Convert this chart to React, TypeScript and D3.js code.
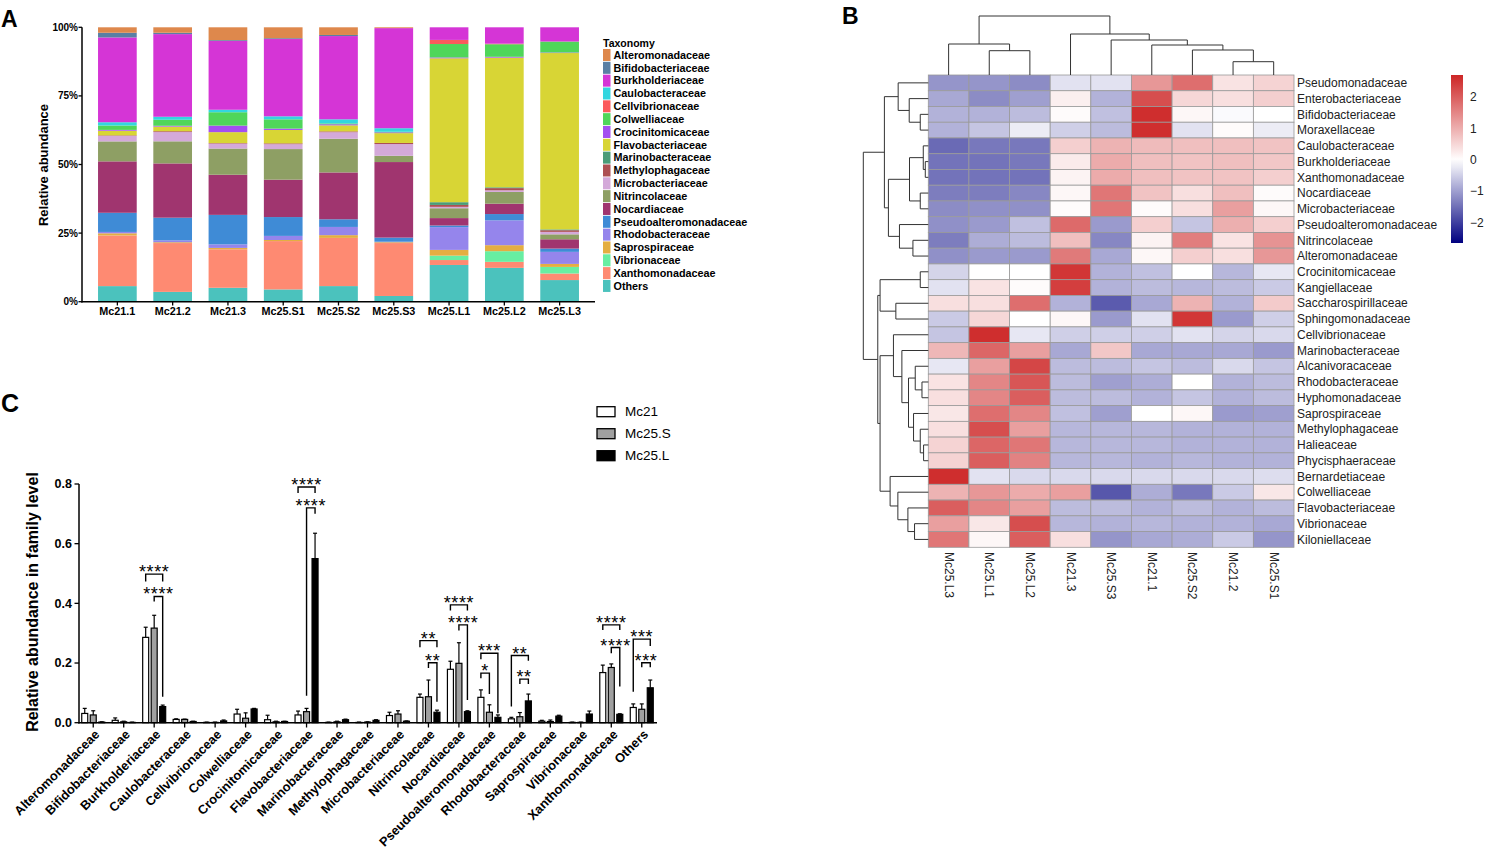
import React from 'react';
import * as d3 from 'd3';

const FONT = '"Liberation Sans", Arial, Helvetica, sans-serif';

// ---------- Panel A: stacked relative abundance ----------
const taxa = [
  'Alteromonadaceae', 'Bifidobacteriaceae', 'Burkholderiaceae', 'Caulobacteraceae', 'Cellvibrionaceae',
  'Colwelliaceae', 'Crocinitomicaceae', 'Flavobacteriaceae', 'Marinobacteraceae', 'Methylophagaceae',
  'Microbacteriaceae', 'Nitrincolaceae', 'Nocardiaceae', 'Pseudoalteromonadaceae', 'Rhodobacteraceae',
  'Saprospiraceae', 'Vibrionaceae', 'Xanthomonadaceae', 'Others',
];
const taxaColors = [
  '#de884c', '#5a7fa4', '#d535d6', '#33d6df', '#fb5a5c',
  '#4fd65a', '#a44ff0', '#d8d535', '#4a9c78', '#ad4f52',
  '#d4a9d9', '#8e9f64', '#a0356f', '#3f8bd6', '#9585ec',
  '#e4ae42', '#68eea2', '#fe8a72', '#4bc2bd',
];
const samples = ['Mc21.1', 'Mc21.2', 'Mc21.3', 'Mc25.S1', 'Mc25.S2', 'Mc25.S3', 'Mc25.L1', 'Mc25.L2', 'Mc25.L3'];
// percent per taxon, in the legend order above
const mc21_1 = [2, 1.7, 31, 1.2, 0, 1.6, 0.3, 1.7, 0, 0.2, 2, 7.3, 18.8, 7, 0.5, 0.8, 0, 18.5, 5.7];
const mc21_2 = [2, 0.5, 30.3, 1.1, 0, 2.2, 0.3, 1.7, 0, 0.3, 3.4, 8.1, 19.9, 8.3, 0.7, 0.3, 0, 17.9, 3.6];
const mc21_3 = [4.7, 0.3, 25.2, 0.9, 0, 4.9, 2.4, 4, 0, 0.2, 1.8, 9.6, 14.7, 10.8, 1.3, 0.5, 0, 14.1, 5.1];
const mc25_s1 = [4, 0.3, 28.3, 1.1, 0, 3.4, 0.5, 4.9, 0, 0.3, 1.8, 11.2, 13.7, 6.9, 1.5, 0.4, 0, 17.7, 4.5];
const mc25_s2 = [2.8, 0.4, 30.4, 1.5, 0, 0.3, 0.4, 2.2, 0, 0.3, 2.4, 12.3, 17.1, 2.8, 3, 1, 0, 17.6, 5.7];
const mc25_s3 = [0.3, 0, 36.7, 1.3, 0, 0.2, 0.3, 3.6, 0, 0.4, 4.3, 2.3, 27.7, 1.5, 0.2, 0.3, 0, 19.4, 2.1];
const mc25_l1 = [0, 0, 4.6, 0, 1.5, 4.9, 0.3, 52.5, 1, 0.7, 0.5, 3.6, 2.7, 0.6, 8.3, 2.1, 1.6, 1.8, 13.4];
const mc25_l2 = [0, 0, 6, 0, 0.2, 4.6, 0.3, 47.5, 0.3, 0.8, 0.6, 4.3, 3.8, 2.3, 9.1, 2.2, 3.9, 2.2, 12.4];
const mc25_l3 = [0, 0, 5.2, 0, 0, 4, 0.2, 64.4, 0.3, 0.6, 0.9, 1.8, 3.4, 1.2, 4.4, 1.1, 2.4, 2.4, 7.9];
const sampleValues = [mc21_1, mc21_2, mc21_3, mc25_s1, mc25_s2, mc25_s3, mc25_l1, mc25_l2, mc25_l3];
const yTicksA = [0, 0.25, 0.5, 0.75, 1];

// ---------- Panel B: heatmap ----------
const heatCols = ['Mc25.L3', 'Mc25.L1', 'Mc25.L2', 'Mc21.3', 'Mc25.S3', 'Mc21.1', 'Mc25.S2', 'Mc21.2', 'Mc25.S1'];
const heatRows = [
  'Pseudomonadaceae', 'Enterobacteriaceae', 'Bifidobacteriaceae', 'Moraxellaceae', 'Caulobacteraceae',
  'Burkholderiaceae', 'Xanthomonadaceae', 'Nocardiaceae', 'Microbacteriaceae', 'Pseudoalteromonadaceae',
  'Nitrincolaceae', 'Alteromonadaceae', 'Crocinitomicaceae', 'Kangiellaceae', 'Saccharospirillaceae',
  'Sphingomonadaceae', 'Cellvibrionaceae', 'Marinobacteraceae', 'Alcanivoracaceae', 'Rhodobacteraceae',
  'Hyphomonadaceae', 'Saprospiraceae', 'Methylophagaceae', 'Halieaceae', 'Phycisphaeraceae',
  'Bernardetiaceae', 'Colwelliaceae', 'Flavobacteriaceae', 'Vibrionaceae', 'Kiloniellaceae',
];
const heatValues = [
  [-1.1, -1.1, -1.2, -0.3, -0.3, 1.3, 1.8, 0.35, 0.55],
  [-0.9, -1.2, -1.0, 0.2, -0.8, 2.2, 0.5, 0.4, 0.6],
  [-0.8, -0.8, -0.7, 0.05, -0.65, 2.6, 0.1, -0.05, 0.0],
  [-0.8, -0.6, -0.2, -0.5, -0.7, 2.6, -0.3, 0.05, -0.2],
  [-1.55, -1.4, -1.4, 0.6, 0.95, 0.85, 0.8, 0.8, 0.75],
  [-1.45, -1.45, -1.4, 0.25, 1.05, 0.8, 0.75, 0.8, 0.7],
  [-1.45, -1.45, -1.45, 0.15, 1.05, 0.8, 0.75, 0.75, 0.6],
  [-1.35, -1.35, -1.25, 0.1, 1.7, 0.75, 0.4, 0.8, 0.05],
  [-1.2, -1.15, -1.15, 0.05, 1.7, 0.05, 0.4, 1.2, 0.1],
  [-1.15, -1.05, -0.65, 1.85, -1.05, 0.6, -0.6, 1.0, 0.6],
  [-1.35, -0.85, -0.7, 0.8, -1.25, 0.15, 1.6, 0.35, 1.35],
  [-1.15, -1.05, -1.05, 1.65, -0.9, 0.1, 0.6, 0.4, 1.3],
  [-0.45, 0.0, 0.0, 2.5, -0.8, -0.65, 0.0, -0.75, -0.25],
  [-0.3, 0.35, 0.05, 2.4, -0.8, -0.7, -0.75, -0.7, -0.55],
  [0.4, 0.4, 1.8, -0.8, -1.7, -0.9, 0.95, -0.8, 0.65],
  [-0.55, 0.5, 0.0, 0.1, -1.05, -0.3, 2.5, -1.05, -0.5],
  [-0.6, 2.6, -0.25, -0.5, -0.5, -0.5, -0.3, -0.45, -0.4],
  [0.9, 1.9, 1.2, -0.9, 0.7, -0.9, -0.9, -0.9, -1.05],
  [-0.25, 1.2, 2.3, -0.7, -0.7, -0.6, -0.7, -0.4, -0.6],
  [0.35, 1.5, 2.1, -0.7, -1.0, -0.85, 0.0, -0.8, -0.7],
  [0.4, 1.5, 2.0, -0.7, -0.7, -0.8, -0.6, -0.8, -0.7],
  [0.3, 1.8, 1.5, -0.65, -1.0, 0.0, 0.1, -1.05, -1.0],
  [0.4, 2.2, 1.2, -0.75, -0.75, -0.75, -0.8, -0.8, -0.8],
  [0.55, 1.9, 1.7, -0.75, -0.75, -0.75, -0.8, -0.8, -0.8],
  [0.55, 2.0, 1.55, -0.75, -0.75, -0.8, -0.75, -0.8, -0.8],
  [2.6, -0.3, -0.4, -0.4, -0.4, -0.4, -0.4, -0.4, -0.35],
  [0.95, 1.3, 1.05, 1.2, -1.75, -0.85, -1.4, -0.55, 0.3],
  [2.0, 1.5, 1.2, -0.7, -0.7, -0.8, -0.7, -0.8, -0.7],
  [1.2, 0.3, 2.2, -0.75, -0.8, -0.75, -0.8, -0.8, -0.9],
  [1.7, 0.1, 2.0, 0.4, -1.1, -0.9, -0.85, -0.55, -1.1],
];
const legendTicksB = [-2, -1, 0, 1, 2];

// dendrograms: [height, left, right], leaves are indices
type Tree = number | [number, Tree, Tree];
const rowTree: Tree = [64.7,
  [43.7,
    [30, 0, [19, 1, [8, 2, 3]]],
    [39.7, [18.7, [5, 4, [3, 5, 6]], [8, 7, 8]], [28.7, 9, [15.3, 10, 11]]]],
  [50.3,
    [48, [8, 12, 13], [32.3, 14, 15]],
    [48,
      [34.7, 16, [26.3, 17, [19.7, [13, 18, [6.3, 19, 20]], [14.7, 21, [8, 22, [4.7, 23, 24]]]]]],
      [38, 25, [30.3, 26, [20.3, 27, [13.7, 28, 29]]]]]]];
const colTree: Tree = [59,
  [31, 0, [24.3, 1, 2]],
  [41, 3, [35, 4, [30, 5, [25, 6, [13.3, 7, 8]]]]]];

// ---------- Panel C: grouped bars ----------
const cFamilies = [
  'Alteromonadaceae', 'Bifidobacteriaceae', 'Burkholderiaceae', 'Caulobacteraceae', 'Cellvibrionaceae',
  'Colwelliaceae', 'Crocinitomicaceae', 'Flavobacteriaceae', 'Marinobacteraceae', 'Methylophagaceae',
  'Microbacteriaceae', 'Nitrincolaceae', 'Nocardiaceae', 'Pseudoalteromonadaceae', 'Rhodobacteraceae',
  'Saprospiraceae', 'Vibrionaceae', 'Xanthomonadaceae', 'Others',
];
const groups = ['Mc21', 'Mc25.S', 'Mc25.L'];
const groupFills = ['#ffffff', '#a0a0a0', '#000000'];
const mc21Mean = [0.031, 0.008, 0.286, 0.011, 0.001, 0.029, 0.010, 0.026, 0.001, 0.001, 0.024, 0.085, 0.179, 0.085, 0.013, 0.005, 0.001, 0.168, 0.051];
const mc21Sd = [0.017, 0.008, 0.034, 0.002, 0.001, 0.016, 0.015, 0.013, 0.001, 0.001, 0.011, 0.011, 0.027, 0.025, 0.005, 0.003, 0.001, 0.025, 0.012];
const mc25SMean = [0.026, 0.003, 0.317, 0.011, 0.001, 0.015, 0.003, 0.037, 0.003, 0.002, 0.029, 0.087, 0.199, 0.035, 0.020, 0.004, 0.001, 0.185, 0.045];
const mc25SSd = [0.014, 0.002, 0.043, 0.001, 0.001, 0.018, 0.002, 0.011, 0.002, 0.001, 0.011, 0.056, 0.069, 0.025, 0.014, 0.005, 0.001, 0.012, 0.018];
const mc25LMean = [0.002, 0.001, 0.054, 0.004, 0.006, 0.046, 0.004, 0.55, 0.010, 0.008, 0.005, 0.035, 0.037, 0.018, 0.073, 0.022, 0.029, 0.028, 0.117];
const mc25LSd = [0.001, 0.001, 0.005, 0.001, 0.003, 0.002, 0.001, 0.085, 0.002, 0.002, 0.001, 0.007, 0.003, 0.008, 0.023, 0.003, 0.010, 0.002, 0.026];
const groupMeans = [mc21Mean, mc25SMean, mc25LMean];
const groupSds = [mc21Sd, mc25SSd, mc25LSd];
const yTicksC = [0, 0.2, 0.4, 0.6, 0.8];
// significance brackets: family, from group, to group, bar level, left leg end, right leg end, label
const brackets: [string, number, number, number, number, number, string][] = [
  ['Burkholderiaceae', 0, 2, 0.498, 0.473, 0.473, '****'],
  ['Burkholderiaceae', 1, 2, 0.423, 0.406, 0.087, '****'],
  ['Flavobacteriaceae', 0, 2, 0.79, 0.77, 0.77, '****'],
  ['Flavobacteriaceae', 1, 2, 0.72, 0.09, 0.70, '****'],
  ['Nitrincolaceae', 0, 2, 0.275, 0.253, 0.253, '**'],
  ['Nitrincolaceae', 1, 2, 0.201, 0.183, 0.07, '**'],
  ['Nocardiaceae', 0, 2, 0.395, 0.376, 0.376, '****'],
  ['Nocardiaceae', 1, 2, 0.328, 0.309, 0.076, '****'],
  ['Pseudoalteromonadaceae', 0, 2, 0.233, 0.213, 0.032, '***'],
  ['Pseudoalteromonadaceae', 0, 1, 0.166, 0.149, 0.096, '*'],
  ['Rhodobacteraceae', 0, 2, 0.225, 0.054, 0.208, '**'],
  ['Rhodobacteraceae', 1, 2, 0.146, 0.13, 0.13, '**'],
  ['Xanthomonadaceae', 0, 2, 0.328, 0.311, 0.311, '****'],
  ['Xanthomonadaceae', 1, 2, 0.252, 0.233, 0.121, '****'],
  ['Others', 0, 2, 0.28, 0.104, 0.257, '***'],
  ['Others', 1, 2, 0.201, 0.186, 0.186, '***'],
];

function walk(t: Tree, leafPos: (i: number) => number, segs: number[][]): { p: number; h: number } {
  if (typeof t === 'number') return { p: leafPos(t), h: 0 };
  const [h, a, b] = t;
  const l = walk(a, leafPos, segs);
  const r = walk(b, leafPos, segs);
  segs.push([l.p, h, r.p, h], [l.p, l.h, l.p, h], [r.p, r.h, r.p, h]);
  return { p: (l.p + r.p) / 2, h };
}

function PanelA() {
  const x = d3.scaleBand().domain(samples).range([82, 595]).paddingInner(0.3).paddingOuter(0.29);
  const y = d3.scaleLinear().domain([0, 1]).range([301.7, 27.3]);
  const table = samples.map((s, i) => {
    const row: Record<string, number | string> = { sample: s };
    taxa.forEach((t, j) => { row[t] = sampleValues[i][j]; });
    return row;
  });
  const stack = d3.stack<Record<string, number | string>>()
    .keys([...taxa].reverse())
    .value((d, k) => d[k] as number)
    .offset(d3.stackOffsetExpand);
  const series = stack(table);
  const color = d3.scaleOrdinal<string, string>().domain(taxa).range(taxaColors);
  return (
    <g>
      <text x={1} y={27} fontSize={23} fontWeight="bold" fontFamily={FONT}>A</text>
      {series.map(s => (
        <g key={s.key} fill={color(s.key)}>
          {s.map((d, i) => (
            <rect key={i} x={x(samples[i])} width={x.bandwidth()} y={y(d[1])} height={Math.max(0, y(d[0]) - y(d[1]))} />
          ))}
        </g>
      ))}
      <line x1={82} x2={82} y1={27.3} y2={302.5} stroke="#000" strokeWidth={1.5} />
      <line x1={81.3} x2={595} y1={301.7} y2={301.7} stroke="#000" strokeWidth={1.5} />
      {yTicksA.map(t => (
        <g key={t}>
          <line x1={78.5} x2={82} y1={y(t)} y2={y(t)} stroke="#000" strokeWidth={1.3} />
          <text x={78} y={y(t)} dy="0.35em" textAnchor="end" fontSize={10} fontWeight="bold" fontFamily={FONT}>{`${t * 100}%`}</text>
        </g>
      ))}
      {samples.map(s => (
        <g key={s}>
          <line x1={x(s)! + x.bandwidth() / 2} x2={x(s)! + x.bandwidth() / 2} y1={301.7} y2={305.5} stroke="#000" strokeWidth={1.3} />
          <text x={x(s)! + x.bandwidth() / 2} y={314.5} textAnchor="middle" fontSize={10.8} fontWeight="bold" fontFamily={FONT}>{s}</text>
        </g>
      ))}
      <text transform="translate(48,165) rotate(-90)" textAnchor="middle" fontSize={13} fontWeight="bold" fontFamily={FONT}>Relative abundance</text>
      <text x={603} y={46.5} fontSize={10.5} fontWeight="bold" fontFamily={FONT}>Taxonomy</text>
      {taxa.map((t, i) => (
        <g key={t} transform={`translate(603,${49 + i * 12.83})`}>
          <rect width={7.5} height={12} fill={color(t)} />
          <text x={10.5} y={6} dy="0.35em" fontSize={10.8} fontWeight="bold" fontFamily={FONT}>{t}</text>
        </g>
      ))}
    </g>
  );
}

function PanelB() {
  const x = d3.scaleBand().domain(heatCols).range([928.3, 1294]);
  const y = d3.scaleBand().domain(heatRows).range([75, 547.3]);
  const zMin = -2.65, zMax = 2.7;
  const color = d3.scaleLinear<string>().domain([zMin, 0, zMax]).range(['#000080', '#ffffff', '#cd2626']).interpolate(d3.interpolateRgb);
  const rowSegs: number[][] = [];
  walk(rowTree, i => y(heatRows[i])! + y.bandwidth() / 2, rowSegs);
  const hx = d3.scaleLinear().domain([0, 64.7]).range([928.3, 863.3]);
  const colSegs: number[][] = [];
  walk(colTree, i => x(heatCols[i])! + x.bandwidth() / 2, colSegs);
  const hy = d3.scaleLinear().domain([0, 59]).range([75, 16]);
  const lg = d3.scaleLinear().domain([zMin, zMax]).range([243, 75]);
  const stops = d3.range(0, 1.0001, 0.05);
  return (
    <g>
      <defs>
        <linearGradient id="zgrad" x1="0" y1="1" x2="0" y2="0">
          {stops.map(s => <stop key={s} offset={s} stopColor={color(zMin + s * (zMax - zMin))} />)}
        </linearGradient>
      </defs>
      <text x={842} y={24} fontSize={23} fontWeight="bold" fontFamily={FONT}>B</text>
      {heatValues.map((row, i) => row.map((v, j) => (
        <rect key={`${i}-${j}`} x={x(heatCols[j])} y={y(heatRows[i])} width={x.bandwidth()} height={y.bandwidth()}
          fill={color(v)} stroke="#9a9a9a" strokeWidth={0.8} />
      )))}
      <g stroke="#333" strokeWidth={1} fill="none">
        {rowSegs.map((s, i) => <line key={i} x1={hx(s[1])} y1={s[0]} x2={hx(s[3])} y2={s[2]} />)}
        {colSegs.map((s, i) => <line key={i} x1={s[0]} y1={hy(s[1])} x2={s[2]} y2={hy(s[3])} />)}
      </g>
      {heatRows.map(r => (
        <text key={r} x={1297} y={y(r)! + y.bandwidth() / 2} dy="0.35em" fontSize={12} fontFamily={FONT} fill="#222">{r}</text>
      ))}
      {heatCols.map(c => (
        <text key={c} transform={`translate(${x(c)! + x.bandwidth() / 2},552) rotate(90)`} dominantBaseline="central"
          fontSize={12} fontFamily={FONT} fill="#222">{c}</text>
      ))}
      <rect x={1451} y={75} width={12} height={168} fill="url(#zgrad)" />
      {legendTicksB.map(t => (
        <text key={t} x={1470} y={lg(t)} dy="0.35em" fontSize={12} fontFamily={FONT} fill="#222">{t < 0 ? `\u2212${-t}` : t}</text>
      ))}
    </g>
  );
}

function PanelC() {
  const x = d3.scaleBand().domain(cFamilies).range([78, 657]);
  const y = d3.scaleLinear().domain([0, 0.8]).range([722.7, 484]);
  const sub = d3.scaleBand().domain(groups).range([-11.5, 11.5]).paddingInner(0.294);
  const cx = (f: string) => x(f)! + x.bandwidth() / 2;
  const barMid = (f: string, g: number) => cx(f) + sub(groups[g])! + sub.bandwidth() / 2;
  return (
    <g fontFamily={FONT}>
      <text x={1} y={412} fontSize={25} fontWeight="bold">C</text>
      {cFamilies.map((f, i) => (
        <g key={f}>
          {groups.map((g, k) => {
            const m = groupMeans[k][i], sd = groupSds[k][i];
            const bx = cx(f) + sub(g)!;
            const mid = bx + sub.bandwidth() / 2;
            return (
              <g key={g}>
                <line x1={mid} x2={mid} y1={y(m)} y2={y(m + sd)} stroke="#000" strokeWidth={1.2} />
                <line x1={mid - 2} x2={mid + 2} y1={y(m + sd)} y2={y(m + sd)} stroke="#000" strokeWidth={1.2} />
                <rect x={bx} width={sub.bandwidth()} y={y(m)} height={y(0) - y(m)} fill={groupFills[k]} stroke="#000" strokeWidth={1.2} />
              </g>
            );
          })}
          <line x1={cx(f)} x2={cx(f)} y1={722.7} y2={727.5} stroke="#000" strokeWidth={1.3} />
          <text transform={`translate(${cx(f) + 4},732) rotate(-45)`} textAnchor="end" dy="0.35em" fontSize={12.8} fontWeight="bold">{f}</text>
        </g>
      ))}
      <line x1={79} x2={79} y1={484} y2={723.4} stroke="#000" strokeWidth={1.5} />
      <line x1={78.3} x2={657} y1={722.7} y2={722.7} stroke="#000" strokeWidth={1.5} />
      {yTicksC.map(t => (
        <g key={t}>
          <line x1={74.5} x2={79} y1={y(t)} y2={y(t)} stroke="#000" strokeWidth={1.3} />
          <text x={72} y={y(t)} dy="0.35em" textAnchor="end" fontSize={12.5} fontWeight="bold">{t.toFixed(1)}</text>
        </g>
      ))}
      <text transform="translate(38,602) rotate(-90)" textAnchor="middle" fontSize={16} fontWeight="bold">Relative abundance in family level</text>
      {brackets.map(([f, a, b, lvl, le, re, lab], i) => {
        const x1 = barMid(f, a), x2 = barMid(f, b);
        return (
          <g key={i}>
            <path d={`M${x1},${y(le)}V${y(lvl)}H${x2}V${y(re)}`} fill="none" stroke="#000" strokeWidth={1.4} />
            <text x={(x1 + x2) / 2} y={y(lvl) + 4} textAnchor="middle" fontSize={18} letterSpacing={0.6} fill="#000">{lab}</text>
          </g>
        );
      })}
      {groups.map((g, k) => (
        <g key={g} transform={`translate(597,${406.7 + k * 22})`}>
          <rect width={18} height={10} fill={groupFills[k]} stroke="#000" strokeWidth={1.3} />
          <text x={28} y={5} dy="0.35em" fontSize={13.5}>{g}</text>
        </g>
      ))}
    </g>
  );
}

export default function App() {
  return (
    <>
      <style>{'body{margin:0;background:#fff}'}</style>
      <svg width={1487} height={849} viewBox="0 0 1487 849" style={{ display: 'block', background: '#fff' }}>
        <PanelA />
        <PanelB />
        <PanelC />
      </svg>
    </>
  );
}
